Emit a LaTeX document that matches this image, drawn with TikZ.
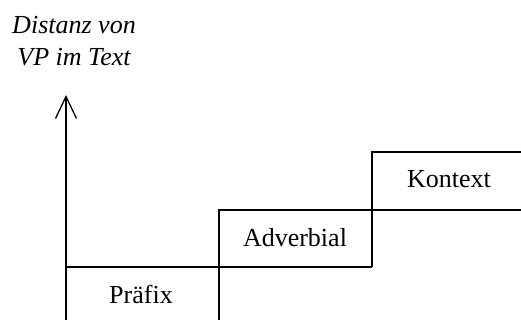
\documentclass[tikz,border=0pt]{standalone}
\usepackage{fontspec}
\setmainfont{Liberation Serif}
\usetikzlibrary{arrows.meta}
\begin{document}
\begin{tikzpicture}[x=1pt,y=-1pt,
  stepline/.style={line width=1.5pt},
  label/.style={inner sep=0pt,font=\fontsize{26}{32}\selectfont},
  axislabel/.style={label,align=center,font=\fontsize{26}{32}\selectfont\itshape}]
  \useasboundingbox (0,0) rectangle (521,320);
  % axis with open arrow head
  \coordinate (base) at (66,320);
  \coordinate (top) at (66,95);
  \draw[line width=1.3pt,-{Straight Barb[length=22pt,width=21pt,line width=1.3pt]}] (base) -- (top);
  \node[axislabel] (ylab) at (74,41) {Distanz von\\VP im Text};
  % staircase of levels
  \draw[stepline] (66,267) -- (372,267);
  \draw[stepline] (219,320) -- (219,210) -- (521,210);
  \draw[stepline] (372,267) -- (372,152) -- (521,152);
  \node[label,anchor=base] (praefix) at (141,303) {Präfix};
  \node[label,anchor=base] (adverbial) at (295,246) {Adverbial};
  \node[label,anchor=base] (kontext) at (449,188) {Kontext};
\end{tikzpicture}
\end{document}
